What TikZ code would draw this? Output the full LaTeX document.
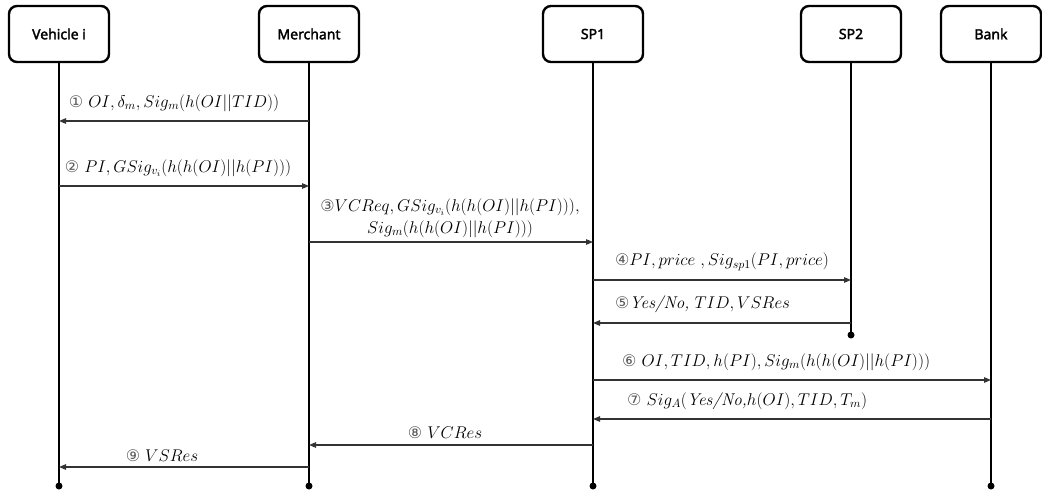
\RequirePackage{fix-cm}
\documentclass[tikz,border=0pt]{standalone}
\usepackage{fontspec}
\usetikzlibrary{arrows.meta}
\newfontfamily\boxfont{Noto Sans}[FakeBold=2.2]
\newfontfamily\circfont{DejaVu Sans}
\newcommand{\cn}[1]{{\color{black!65}\circfont\fontsize{16}{16}\selectfont #1}}
\tikzset{
  actor/.style={draw, line width=2.4pt, rounded corners=8pt, minimum width=100pt, minimum height=56pt, font=\boxfont\fontsize{14}{16}\selectfont, inner sep=0pt},
  life/.style={line width=1.8pt},
  msg/.style={line width=1.1pt, draw=black!80, -{Triangle[length=7pt,width=5.5pt]}},
  lbl/.style={font=\fontsize{17}{20}\selectfont, inner sep=0pt},
  enddot/.style={circle, fill=black, inner sep=0pt, minimum size=7pt}
}
\begin{document}
\begin{tikzpicture}[x=1pt,y=-1pt]
\useasboundingbox (0,0) rectangle (1042,493);
% actors
\node[actor] (v)  at (59,34)  {Vehicle i};
\node[actor] (m)  at (309,34) {Merchant};
\node[actor] (s1) at (593,34) {SP1};
\node[actor] (s2) at (851,34) {SP2};
\node[actor] (b)  at (991,34) {Bank};
% lifeline ends
\node[enddot] (vE)  at (59,486) {};
\node[enddot] (mE)  at (309,486) {};
\node[enddot] (s1E) at (593,486) {};
\node[enddot] (s2E) at (851,335) {};
\node[enddot] (bE)  at (991,486) {};
\draw[life] (v) -- (vE.center);
\draw[life] (m) -- (mE.center);
\draw[life] (s1) -- (s1E.center);
\draw[life] (s2) -- (s2E.center);
\draw[life] (b) -- (bE.center);
% messages
\draw[msg] (m |- 0,121) -- (v |- 0,121);
\node[lbl] (l1) at (174,103) {\cn{①} $OI,\delta_m,Sig_m(h(OI||TID))$};
\draw[msg] (v |- 0,186) -- (m |- 0,186);
\node[lbl] (l2) at (178,168) {\cn{②} $PI,GSig_{v_i}(h(h(OI)||h(PI)))$};
\draw[msg] (m |- 0,242) -- (s1 |- 0,242);
\node[lbl, align=center] (l3a) at (450,207) {\cn{③}$VCReq,GSig_{v_i}(h(h(OI)||h(PI))),$};
\node[lbl, align=center] (l3b) at (450,229) {$Sig_m(h(h(OI)||h(PI)))$};
\draw[msg] (s1 |- 0,280) -- (s2 |- 0,280);
\node[lbl] (l4) at (722,262) {\cn{④}$PI,price\ ,Sig_{sp1}(PI,price)$};
\draw[msg] (s2 |- 0,323) -- (s1 |- 0,323);
\node[lbl, anchor=west] (l5) at (615,304) {\cn{⑤}\textit{Yes/No,} $TID,VSRes$};
\draw[msg] (s1 |- 0,380) -- (b |- 0,380);
\node[lbl, anchor=west] (l6) at (622,362) {\cn{⑥} $OI,TID,h(PI),Sig_m(h(h(OI)||h(PI)))$};
\draw[msg] (b |- 0,419) -- (s1 |- 0,419);
\node[lbl, anchor=west] (l7) at (627,401) {\cn{⑦} $Sig_A($\textit{Yes/No,}$h(OI),TID,T_m)$};
\draw[msg] (s1 |- 0,445) -- (m |- 0,445);
\node[lbl] (l8) at (445,433) {\cn{⑧} $VCRes$};
\draw[msg] (m |- 0,467) -- (v |- 0,467);
\node[lbl] (l9) at (162,456) {\cn{⑨} $VSRes$};
\end{tikzpicture}
\end{document}
